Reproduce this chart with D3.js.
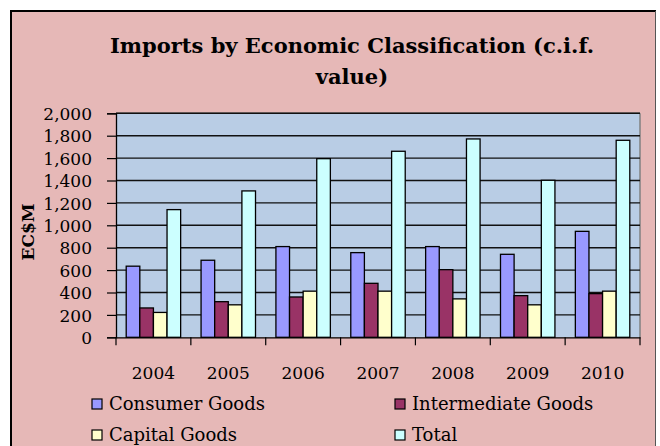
<!DOCTYPE html>
<html><head><meta charset="utf-8">
<script src="https://cdn.jsdelivr.net/npm/d3@7"></script>
<style>body{margin:0;background:#fff}svg{display:block}</style>
</head><body>
<script>
const years = ["2004","2005","2006","2007","2008","2009","2010"];
const seriesNames = ["Consumer Goods","Intermediate Goods","Capital Goods","Total"];
const consumer = [635, 688, 810, 756, 810, 741, 946];
const intermediate = [262, 318, 360, 482, 604, 372, 390];
const capital = [222, 290, 412, 412, 343, 290, 412];
const total = [1140, 1307, 1595, 1661, 1771, 1402, 1759];
const yTicks = [0,200,400,600,800,1000,1200,1400,1600,1800,2000];
const colors = ["#9999FF","#993366","#FFFFCC","#CCFFFF"];
const seriesValues = [consumer, intermediate, capital, total];

const W=660,H=446;
const svg=d3.select("body").append("svg").attr("width",W).attr("height",H);
const font="'DejaVu Serif', serif";

// chart area
svg.append("rect").attr("x",11).attr("y",11).attr("width",645).attr("height",H).attr("fill","#E6B8B7");
svg.append("line").attr("x1",11).attr("x2",11).attr("y1",10).attr("y2",H).attr("stroke","#000").attr("stroke-width",2);
svg.append("line").attr("x1",10).attr("x2",656).attr("y1",11).attr("y2",11).attr("stroke","#000").attr("stroke-width",2);
svg.append("line").attr("x1",655.5).attr("x2",655.5).attr("y1",11).attr("y2",H).attr("stroke","#555").attr("stroke-width",1);

const L=116,R=640,T=113.3,B=337.3;
const band=(R-L)/years.length;
const barW=band/5.5; // gap width 150%
const x0=d3.scaleBand().domain(years).range([L,R]).padding(0);
const y=d3.scaleLinear().domain([0,2000]).range([B,T]);

// plot area
svg.append("rect").attr("x",L).attr("y",T).attr("width",R-L).attr("height",B-T).attr("fill","#B9CDE5");
svg.append("line").attr("x1",L).attr("x2",R).attr("y1",T).attr("y2",T).attr("stroke","#808080").attr("stroke-width",1.5);
svg.append("line").attr("x1",R).attr("x2",R).attr("y1",T).attr("y2",B).attr("stroke","#808080").attr("stroke-width",1.5);

// gridlines
svg.append("g").selectAll("line").data(yTicks.filter(d=>d>0)).join("line")
  .attr("x1",L).attr("x2",R).attr("y1",d=>y(d)).attr("y2",d=>y(d))
  .attr("stroke","#111").attr("stroke-width",1.4);

// bars
seriesValues.forEach((vals,si)=>{
  svg.append("g").selectAll("rect").data(years).join("rect")
    .attr("x",d=>x0(d)+0.75*barW+si*barW)
    .attr("y",(d,i)=>y(vals[i]))
    .attr("width",barW)
    .attr("height",(d,i)=>B-y(vals[i]))
    .attr("fill",colors[si]).attr("stroke","#000").attr("stroke-width",1.3);
});

// y axis
const yAxis=svg.append("g").attr("transform",`translate(${L},0)`)
  .call(d3.axisLeft(y).tickValues(yTicks).tickSize(9).tickPadding(15).tickFormat(d3.format(",")));
yAxis.select(".domain").attr("stroke","#000").attr("stroke-width",1.3);
yAxis.selectAll(".tick line").attr("stroke","#000").attr("stroke-width",1.2);
yAxis.selectAll("text").attr("font-family",font).attr("font-size",17).attr("fill","#000").attr("dy","0.36em");

// x axis
const xAxis=svg.append("g").attr("transform",`translate(0,${B})`)
  .call(d3.axisBottom(x0).tickSize(0).tickPadding(0));
xAxis.select(".domain").attr("stroke","#000").attr("stroke-width",1.3);
xAxis.selectAll("text").attr("font-family",font).attr("font-size",17).attr("fill","#000").attr("y",42).attr("dy",0);
const boundaries=years.map(d=>x0(d)).concat([R]);
svg.append("g").selectAll("line").data(boundaries).join("line")
  .attr("x1",d=>d).attr("x2",d=>d).attr("y1",B).attr("y2",B+8).attr("stroke","#000").attr("stroke-width",1.2);

// y title
svg.append("text").attr("transform","translate(34,232) rotate(-90)").attr("text-anchor","middle")
  .attr("font-family",font).attr("font-weight","bold").attr("font-size",17).text("EC$M");

// title
const title=svg.append("text").attr("text-anchor","middle").attr("font-family",font).attr("font-weight","bold").attr("font-size",21);
title.append("tspan").attr("x",352).attr("y",53).text("Imports by Economic Classification (c.i.f.");
title.append("tspan").attr("x",352).attr("y",84).text("value)");

// legend
const legPos=[[92,399],[395,399],[92,430],[395,430]];
seriesNames.forEach((n,i)=>{
  const [lx,ly]=legPos[i];
  svg.append("rect").attr("x",lx).attr("y",ly).attr("width",10).attr("height",10)
    .attr("fill",colors[i]).attr("stroke","#000").attr("stroke-width",1.2);
  svg.append("text").attr("x",lx+17).attr("y",ly+11).attr("font-family",font).attr("font-size",18).text(n);
});
</script>
</body></html>
